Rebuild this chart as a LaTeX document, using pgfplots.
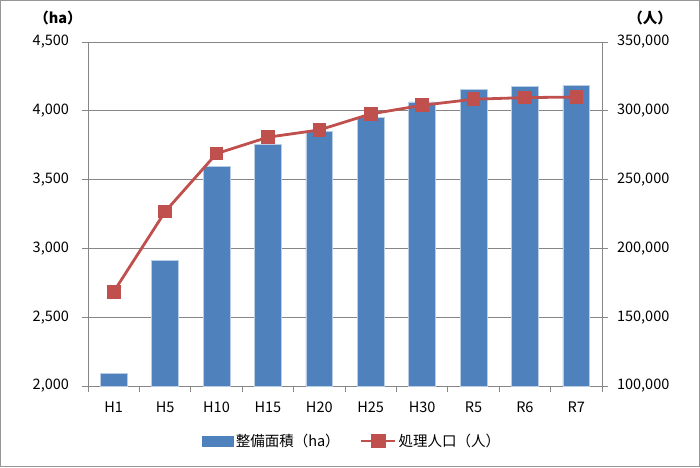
\documentclass[border=0pt]{standalone}
\usepackage{pgfplots}
\pgfplotsset{compat=1.18}
\usepackage{fontspec}
\setmainfont{Noto Sans CJK JP}
\definecolor{barblue}{RGB}{79,129,189}
\definecolor{baredge}{RGB}{185,205,229}
\definecolor{linered}{RGB}{192,80,77}
\definecolor{axgray}{RGB}{134,134,134}
\definecolor{framegray}{RGB}{150,150,150}
\begin{document}
\fontsize{14.5}{16}\selectfont
\begin{tikzpicture}
\useasboundingbox (-88pt,-81pt) rectangle (612pt,386pt);
\draw[framegray, line width=1.2pt] (-87.4pt,-80.4pt) rectangle (611.4pt,385.4pt);
\pgfplotsset{
    every axis/.append style={
        scale only axis,
        width=514pt, height=344pt,
        xmin=-0.5, xmax=9.5,
        axis line style={axgray, line width=0.8pt},
        tick style={axgray, line width=0.8pt},
        tick align=outside,
        scaled y ticks=false,
        tick label style={font=\fontsize{14.5}{16}\selectfont},
    },
}
\begin{axis}[
    axis y line*=left,
    axis x line*=bottom,
    ymin=2000, ymax=4500,
    ytick={2000,2500,3000,3500,4000,4500},
    yticklabels={{2,000},{2,500},{3,000},{3,500},{4,000},{4,500}},
    yticklabel style={xshift=-8pt},
    ymajorgrids,
    grid style={axgray, line width=0.8pt},
    xtick={0,...,9},
    xticklabels={H1,H5,H10,H15,H20,H25,H30,R5,R6,R7},
    major x tick style={draw=none},
    minor xtick={-0.5,0.5,...,9.5},
    minor tick length=6pt,
    major tick length=6pt,
    xticklabel style={yshift=-5pt},
    ybar, bar width=0.52,
]
\addplot[fill=barblue, draw=baredge, line width=0.6pt] coordinates {
    (0,2090) (1,2910) (2,3595) (3,3755) (4,3848)
    (5,3952) (6,4065) (7,4155) (8,4175) (9,4182)
};
\draw[axgray, line width=0.8pt] (rel axis cs:0,1) -- (rel axis cs:1,1);
\end{axis}
\begin{axis}[
    axis y line*=right,
    axis x line=none,
    ymin=100000, ymax=350000,
    ytick={100000,150000,200000,250000,300000,350000},
    yticklabels={{100,000},{150,000},{200,000},{250,000},{300,000},{350,000}},
    yticklabel style={xshift=4pt},
    major tick length=6pt,
    legend style={
        at={(rel axis cs:0.514,-0.16)}, anchor=center,
        draw=none, fill=none,
        legend columns=2,
        font=\fontsize{14.5}{16}\selectfont,
        /tikz/every even column/.append style={column sep=18pt},
        cells={anchor=west},
    },
]
\addlegendimage{legend image code/.code={
    \fill[barblue] (0pt,-5pt) rectangle (31pt,5pt);}}
\addlegendentry{整備面積（ha）}
\addplot[linered, line width=2.8pt, mark=square*, mark size=6.3pt,
    mark options={solid, fill=linered, line width=0pt},
    legend image code/.code={
        \draw[linered, line width=2.8pt] (0pt,0pt) -- (34pt,0pt);
        \fill[linered] (11pt,-6pt) rectangle (23pt,6pt);}]
coordinates {
    (0,168500) (1,226700) (2,268900) (3,280800) (4,286100)
    (5,297700) (6,304000) (7,308400) (8,309600) (9,310000)
};
\addlegendentry{処理人口（人）}
\end{axis}
\node[font=\bfseries] at (-30pt,368pt) {（ha）};
\node[font=\bfseries] at (562pt,368pt) {（人）};
\end{tikzpicture}
\end{document}
